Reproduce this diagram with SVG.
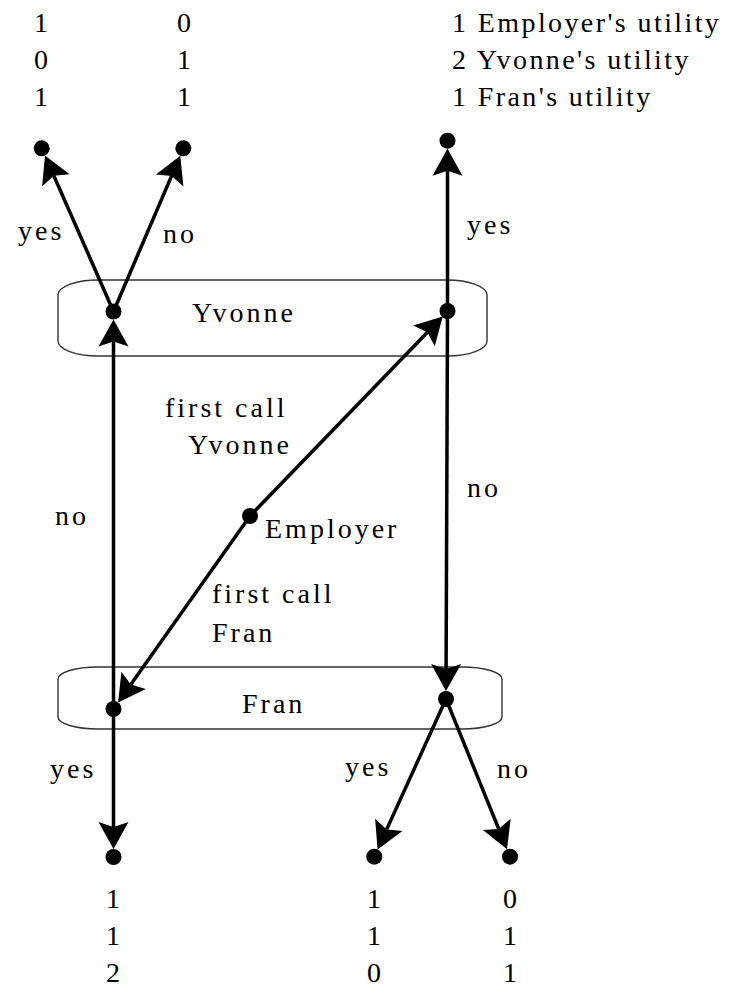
<svg xmlns="http://www.w3.org/2000/svg" width="735" height="987" viewBox="0 0 735 987" font-family="Liberation Serif, serif">
<style>
  text { font-size: 28px; letter-spacing: 3px; fill: #000; }
  .box { fill: none; stroke: #333; stroke-width: 1.4; }
  .edge { stroke: #000; stroke-width: 3.5; fill: none; marker-end: url(#arr); }
  .dot { fill: #000; }
  .c { text-anchor: middle; letter-spacing: 0; }
  .leg { letter-spacing: 2.4px; }
</style>
<defs>
  <marker id="arr" markerUnits="userSpaceOnUse" orient="auto" refX="0" refY="0" markerWidth="40" markerHeight="40" overflow="visible">
    <path d="M22,0 L-5,-15 L0,0 L-5,15 Z" fill="#000"/>
  </marker>
</defs>
<rect width="735" height="987" fill="#fff"/>

<g id="infosets">
  <rect id="yvonne-set" class="box" x="58" y="280" width="429" height="76" rx="40" ry="15"/>
  <rect id="fran-set" class="box" x="58" y="667" width="444" height="62" rx="40" ry="12"/>
  <text x="192" y="322">Yvonne</text>
  <text x="242" y="713">Fran</text>
</g>

<g id="connectors">
  <line class="edge" x1="113.5" y1="311.5" x2="53.85" y2="175.7"/>
  <line class="edge" x1="113.5" y1="311.5" x2="171.6" y2="175.9"/>
  <line class="edge" x1="113.5" y1="709" x2="113.5" y2="341.5"/>
  <line class="edge" x1="113.5" y1="709" x2="113.5" y2="827"/>
  <line class="edge" x1="250" y1="516" x2="427.45" y2="332.3"/>
  <line class="edge" x1="250" y1="516" x2="130.8" y2="684.5"/>
  <line class="edge" x1="447.5" y1="311" x2="447.5" y2="170.7"/>
  <line class="edge" x1="447.5" y1="311" x2="446.1" y2="669"/>
  <line class="edge" x1="446" y1="699" x2="386.7" y2="829.4"/>
  <line class="edge" x1="446" y1="699" x2="498.7" y2="828.9"/>
  <text x="18" y="240">yes</text>
  <text x="163" y="243">no</text>
  <text x="467" y="234">yes</text>
  <text x="55" y="525">no</text>
  <text x="467" y="497">no</text>
  <text x="165" y="417">first call</text>
  <text x="188" y="454">Yvonne</text>
  <text x="212" y="603">first call</text>
  <text x="212" y="642">Fran</text>
  <text x="50" y="778">yes</text>
  <text x="345" y="776">yes</text>
  <text x="497" y="778">no</text>
</g>

<g id="employer">
  <circle class="dot" cx="250" cy="516" r="8"/>
  <text x="265" y="538">Employer</text>
</g>
<g id="yvonne-left"><circle class="dot" cx="113.5" cy="311.5" r="8"/></g>
<g id="yvonne-right"><circle class="dot" cx="447.5" cy="311" r="8"/></g>
<g id="fran-left"><circle class="dot" cx="113.5" cy="709" r="8"/></g>
<g id="fran-right"><circle class="dot" cx="446" cy="699" r="8"/></g>

<g id="leaf-yy">
  <circle class="dot" cx="41.7" cy="148.3" r="8"/>
  <text class="c" x="41" y="32">1</text>
  <text class="c" x="41" y="69">0</text>
  <text class="c" x="41" y="106">1</text>
</g>
<g id="leaf-yn">
  <circle class="dot" cx="183.3" cy="148.3" r="8"/>
  <text class="c" x="184" y="32">0</text>
  <text class="c" x="184" y="69">1</text>
  <text class="c" x="184" y="106">1</text>
</g>
<g id="leaf-ny">
  <circle class="dot" cx="447.5" cy="140.7" r="8"/>
  <text class="leg" x="452" y="32">1 Employer's utility</text>
  <text class="leg" x="452" y="69">2 Yvonne's utility</text>
  <text class="leg" x="452" y="106">1 Fran's utility</text>
</g>
<g id="leaf-fy">
  <circle class="dot" cx="113.5" cy="857" r="8"/>
  <text class="c" x="113" y="908">1</text>
  <text class="c" x="113" y="945">1</text>
  <text class="c" x="113" y="982">2</text>
</g>
<g id="leaf-fny">
  <circle class="dot" cx="374.3" cy="856.7" r="8"/>
  <text class="c" x="374" y="908">1</text>
  <text class="c" x="374" y="945">1</text>
  <text class="c" x="374" y="982">0</text>
</g>
<g id="leaf-fnn">
  <circle class="dot" cx="510" cy="856.7" r="8"/>
  <text class="c" x="510" y="908">0</text>
  <text class="c" x="510" y="945">1</text>
  <text class="c" x="510" y="982">1</text>
</g>
</svg>
